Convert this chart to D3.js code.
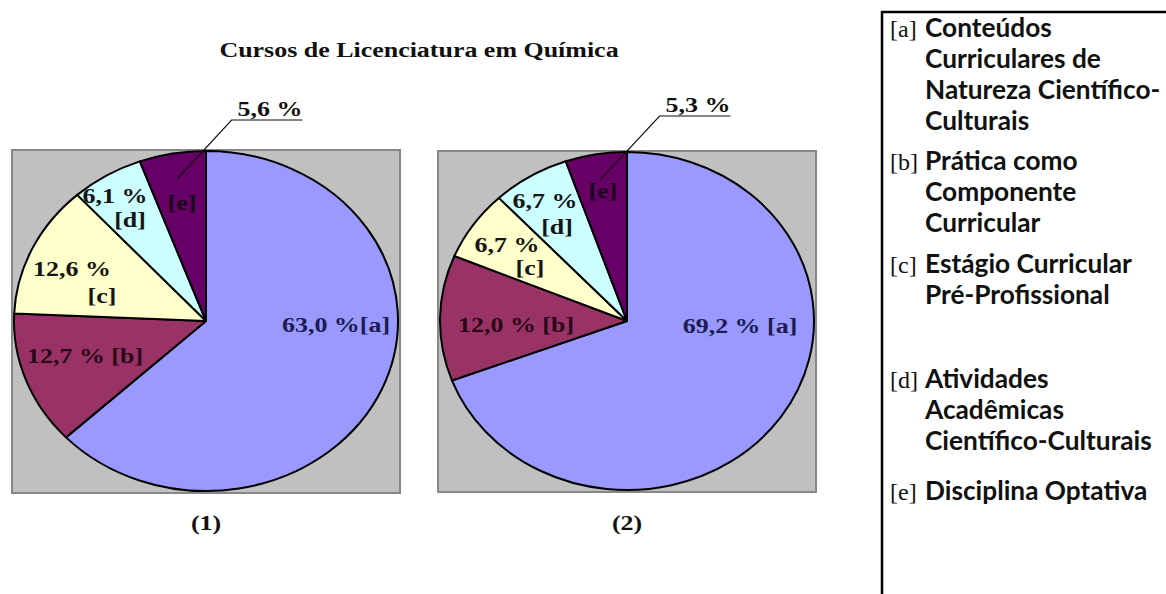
<!DOCTYPE html>
<html><head><meta charset="utf-8">
<script src="https://cdn.jsdelivr.net/npm/d3@7"></script>
<style>html,body{margin:0;padding:0;background:#fff;} svg{display:block}</style>
</head><body>
<svg id="c" width="1166" height="594"></svg>
<script>
// ---- data ----
const title = "Cursos de Licenciatura em Química";
const categories = ["a", "b", "c", "d", "e"];
const values1 = [63.0, 12.7, 12.6, 6.1, 5.6];
const values2 = [69.2, 12.0, 6.7, 6.7, 5.3];
const pieNames = ["(1)", "(2)"];
const legendKeys = ["[a]", "[b]", "[c]", "[d]", "[e]"];
const legendLines = [
  ["Conteúdos", "Curriculares de", "Natureza Científico-", "Culturais"],
  ["Prática como", "Componente", "Curricular"],
  ["Estágio Curricular", "Pré-Profissional"],
  ["Atividades", "Acadêmicas", "Científico-Culturais"],
  ["Disciplina Optativa"]
];

// ---- styles / layout ----
const colors = ["#9999ff", "#993366", "#ffffcc", "#ccffff", "#660066"];
const labelColors = ["#1c1c52", "#2a0818", "#151515", "#151515", "#1a001a"];
const SERIF = "'Liberation Serif','Times New Roman',serif";
const SX = 1.18;
const FS = 22;
const fmt = d3.formatLocale({decimal: ",", thousands: ".", grouping: [3], currency: ["", ""]}).format(".1f");

const svg = d3.select("#c");

function serifText(g, x, y, txt, size, color) {
  return g.append("text")
    .attr("transform", `translate(${x},${y}) scale(${SX},1)`)
    .attr("text-anchor", "middle")
    .attr("font-family", SERIF).attr("font-weight", "bold")
    .attr("font-size", size).attr("fill", color).text(txt);
}

serifText(svg, 419, 57, title, FS, "#111");

const pieLayouts = [
  {values: values1, name: pieNames[0], cx: 206, cy: 321, rx: 192, ry: 170, sep: "",
   off: {a: [[130, 11]], b: [[-121, 42]], c: [[-134, -45], [-104, -18]], d: [[-91, -118], [-76, -94]], e: [[-24, -111]]},
   out: [64, -205]},
  {values: values2, name: pieNames[1], cx: 627, cy: 321, rx: 187, ry: 169, sep: " ",
   off: {a: [[113, 12]], b: [[-111, 11]], c: [[-120, -69], [-97, -46]], d: [[-82, -113], [-70, -87]], e: [[-24, -123]]},
   out: [71, -209]}
];

const pie = d3.pie().sort(null).value(d => d);

pieLayouts.forEach(p => {
  const arcs = pie(p.values);
  const g = svg.append("g");
  g.append("rect")
    .attr("x", p.cx - p.rx - 2).attr("y", p.cy - p.ry - 1)
    .attr("width", 2 * p.rx + 4).attr("height", 2 * p.ry + 3)
    .attr("fill", "#c0c0c0").attr("stroke", "#878787").attr("stroke-width", 2);

  const arc = d3.arc().innerRadius(0).outerRadius(p.ry);
  const pg = g.append("g").attr("transform", `translate(${p.cx},${p.cy}) scale(${p.rx / p.ry},1)`);
  pg.selectAll("path").data(arcs).join("path")
    .attr("d", arc)
    .attr("fill", (d, i) => colors[i])
    .attr("stroke", "#000").attr("stroke-width", 2)
    .attr("stroke-linejoin", "round")
    .attr("vector-effect", "non-scaling-stroke");

  // labels inside slices
  categories.forEach((c, i) => {
    const v = p.values[i];
    const key = "[" + c + "]";
    const offs = p.off[c];
    let lines;
    if (offs.length === 2) lines = [fmt(v) + " %", key];
    else if (c === "e") lines = [key];
    else if (c === "a") lines = [fmt(v) + " %" + p.sep + key];
    else lines = [fmt(v) + " % " + key];
    lines.forEach((t, j) => serifText(g, p.cx + offs[j][0], p.cy + offs[j][1], t, FS, labelColors[i]));
  });

  // outside label for slice e with leader
  const e = arcs[4];
  const m = (e.startAngle + e.endAngle) / 2;
  const sx0 = p.cx + p.rx * 0.85 * Math.sin(m);
  const sy0 = p.cy - p.ry * 0.85 * Math.cos(m);
  const tx = p.cx + p.out[0], ty = p.cy + p.out[1];
  const t = serifText(g, tx, ty, fmt(p.values[4]) + " %", FS, "#111");
  const w = t.node().getComputedTextLength() * SX;
  const ux0 = tx - w / 2 - 6, ux1 = tx + w / 2, uy = ty + 4;
  g.append("path")
    .attr("d", `M${sx0},${sy0}L${ux0},${uy}L${ux1},${uy}`)
    .attr("fill", "none").attr("stroke", "#111").attr("stroke-width", 1.2);

  serifText(g, p.cx, 530, p.name, FS, "#111");
});

// ---- legend ----
const lg = svg.append("g");
lg.append("rect").attr("x", 882).attr("y", 12).attr("width", 400).attr("height", 700)
  .attr("fill", "none").attr("stroke", "#000").attr("stroke-width", 2.5);

const SANS = "Lato, 'Open Sans', sans-serif";
const probe = lg.append("text").attr("font-family", SANS).attr("font-weight", "bold")
  .attr("font-size", 26).text("Científico-Culturais");
const pw = probe.node().getComputedTextLength();
probe.remove();
const legendSize = 26 * 227 / pw;

const itemTop = [37, 170, 273, 388, 500];
const lineStep = 31;
legendKeys.forEach((k, i) => {
  lg.append("text").attr("x", 890).attr("y", itemTop[i])
    .attr("font-family", SERIF).attr("font-size", 24).attr("fill", "#111").text(k);
  legendLines[i].forEach((ln, j) => {
    lg.append("text").attr("x", 925).attr("y", itemTop[i] + j * lineStep)
      .attr("font-family", SANS).attr("font-weight", "bold")
      .attr("font-size", legendSize).attr("fill", "#111").text(ln);
  });
});
</script>
</body></html>
